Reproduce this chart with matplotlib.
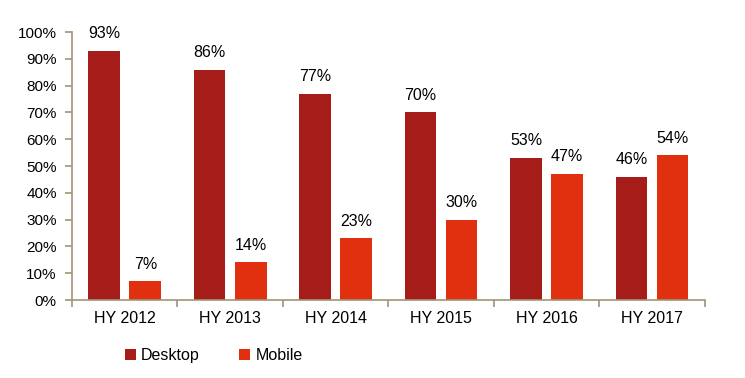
import numpy as np
import matplotlib.pyplot as plt

periods = ["HY 2012", "HY 2013", "HY 2014", "HY 2015", "HY 2016", "HY 2017"]
desktop = [93, 86, 77, 70, 53, 46]
mobile = [7, 14, 23, 30, 47, 54]

plt.rcParams['font.family'] = ['Liberation Sans', 'DejaVu Sans']

desk_color = '#A51C18'
mob_color = '#E0300F'
axis_color = '#A09676'
fs = 11.5

fig = plt.figure(figsize=(7.45, 3.78), dpi=100)
ax = fig.add_axes([0.0966, 0.2063, 0.8494, 0.709])

x = np.arange(len(periods))
w = 0.30
off = 0.195
b1 = ax.bar(x - off, desktop, w, color=desk_color, label='Desktop')
b2 = ax.bar(x + off, mobile, w, color=mob_color, label='Mobile')

# value labels on top of each bar
for bars, vals in [(b1, desktop), (b2, mobile)]:
    for b, v in zip(bars, vals):
        ax.annotate("%d%%" % v, (b.get_x() + b.get_width() / 2, v),
                    xytext=(0, 7), textcoords='offset points',
                    ha='center', va='bottom', fontsize=fs)

ax.set_xlim(-0.5, len(periods) - 0.5)
ax.set_ylim(0, 100)
ax.set_yticks(range(0, 101, 10))
ax.set_yticklabels(["%d%%" % t for t in range(0, 101, 10)], fontsize=11)

# ticks at category borders, labels at centres
ax.set_xticks(np.arange(-0.5, len(periods), 1))
ax.set_xticklabels([])
ax.set_xticks(x, minor=True)
ax.set_xticklabels(periods, minor=True, fontsize=fs)
ax.tick_params(axis='x', which='minor', length=0, pad=8)
ax.tick_params(axis='x', which='major', length=5, color=axis_color, width=1.2)
ax.tick_params(axis='y', length=5, color=axis_color, width=1.2, pad=6)

for s in ['top', 'right']:
    ax.spines[s].set_visible(False)
for s in ['left', 'bottom']:
    ax.spines[s].set_color(axis_color)
    ax.spines[s].set_linewidth(1.2)

fig.legend(handles=[b1, b2], loc='center left', bbox_to_anchor=(0.148, 0.06),
           ncol=2, frameon=False, fontsize=fs, handlelength=0.7, handleheight=0.7,
           handletextpad=0.3, columnspacing=2.5)

fig.savefig('out.png', dpi=100)
